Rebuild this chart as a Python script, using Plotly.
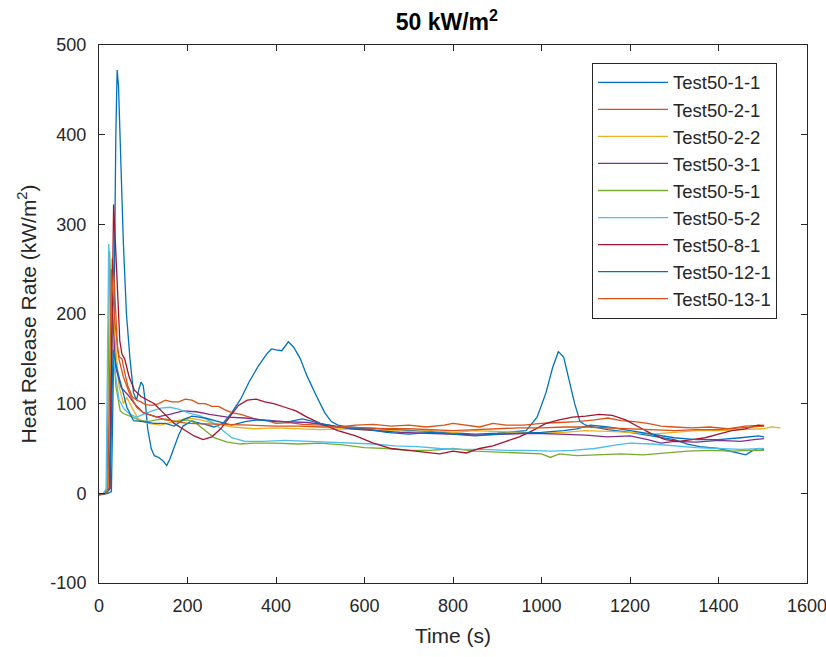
import plotly.graph_objects as go

# ---- data ----
names = ["Test50-1-1", "Test50-2-1", "Test50-2-2", "Test50-3-1", "Test50-5-1",
         "Test50-5-2", "Test50-8-1", "Test50-12-1", "Test50-13-1"]
colors = ["#0072BD", "#D95319", "#EDB120", "#7E2F8E", "#77AC30",
          "#4DBEEE", "#A2142F", "#0072BD", "#D95319"]

t_1_1 = [0, 10, 20, 28, 33, 38, 41, 44, 48, 55, 62, 70, 78, 85, 90, 95, 100, 105, 110, 118, 125, 135, 145, 153,
         160, 170, 180, 190, 200, 210, 220, 240, 260, 280, 300, 320, 340, 360, 380, 390, 400, 413, 428, 440, 455,
         470, 490, 510, 525, 540, 560, 600, 650, 700, 750, 800, 850, 900, 940, 965, 990, 1010, 1025, 1038, 1050,
         1062, 1075, 1087, 1100, 1116, 1150, 1200, 1250, 1300, 1330, 1358, 1400, 1430, 1449, 1462, 1475, 1490, 1503]
y_1_1 = [-2, -1, 0, 2, 150, 400, 472, 455, 380, 280, 200, 150, 112, 104, 116, 124, 120, 100, 72, 50, 42, 40, 36, 31,
         38, 52, 65, 75, 78, 81, 79, 77, 74, 78, 90, 105, 125, 142, 156, 161, 160, 159, 169, 163, 150,
         131, 110, 90, 80, 76, 74, 73, 71, 70, 69, 68, 66, 67, 69, 70, 85, 112, 140, 158, 152,
         128, 100, 80, 76, 74, 71, 68, 64, 60, 55, 52, 50, 47, 45, 43, 47, 50, 49]

t_2_1 = [0, 15, 22, 26, 30, 34, 38, 42, 46, 52, 58, 65, 75, 85, 95, 105, 120, 135, 150, 165, 180, 195, 210, 225,
         240, 255, 270, 285, 300, 320, 340, 360, 380, 400, 430, 460, 500, 540, 580, 620, 660, 700, 740, 780, 800,
         830, 860, 890, 920, 960, 1000, 1040, 1080, 1120, 1150, 1180, 1210, 1240, 1270, 1300, 1340, 1380, 1420,
         1460, 1503]
y_2_1 = [-1, 0, 5, 150, 262, 240, 190, 160, 152, 150, 135, 120, 108, 104, 102, 99, 98, 100, 104, 102, 102, 105, 104, 100,
         100, 97, 97, 93, 90, 88, 85, 82, 81, 78, 79, 77, 76, 74, 76, 77, 75, 76, 74, 76, 78,
         76, 74, 78, 76, 76, 78, 79, 80, 82, 84, 81, 80, 78, 75, 74, 73, 74, 72,
         75, 76]

t_2_2 = [0, 15, 22, 28, 35, 45, 55, 63, 75, 90, 110, 140, 170, 200, 230, 260, 300, 350, 400, 450, 500, 550, 600,
         650, 700, 750, 800, 850, 900, 950, 1000, 1050, 1100, 1150, 1200, 1250, 1300, 1350, 1400, 1450, 1500,
         1520, 1540]
y_2_2 = [-1, 0, 4, 255, 180, 120, 100, 107, 95, 82, 78, 76, 80, 84, 82, 78, 74, 72, 73, 72, 71, 72, 71,
         70, 69, 70, 68, 70, 69, 68, 67, 68, 70, 69, 68, 66, 68, 70, 70, 71, 72,
         74, 73]

t_3_1 = [0, 15, 24, 30, 38, 50, 65, 80, 100, 130, 160, 190, 220, 250, 290, 330, 370, 420, 470, 520, 570, 620,
         680, 740, 800, 860, 920, 980, 1040, 1100, 1150, 1200, 1240, 1270, 1300, 1350, 1400, 1450, 1480, 1503]
y_3_1 = [-1, 0, 6, 200, 140, 118, 110, 100, 90, 85, 88, 92, 91, 88, 85, 84, 82, 80, 79, 76, 72, 70,
         68, 67, 66, 65, 66, 67, 66, 65, 63, 64, 60, 56, 58, 57, 59, 58, 60, 61]

t_5_1 = [0, 12, 18, 24, 30, 38, 48, 55, 70, 90, 110, 130, 150, 175, 200, 220, 240, 260, 290, 320, 350, 400, 450,
         500, 550, 600, 650, 700, 750, 800, 850, 900, 950, 1000, 1020, 1040, 1080, 1130, 1180, 1230, 1280, 1330,
         1380, 1430, 1470, 1503]
y_5_1 = [-1, 0, 5, 270, 180, 120, 92, 89, 86, 82, 80, 82, 83, 80, 82, 78, 70, 62, 57, 55, 56, 56, 55,
         56, 54, 51, 50, 48, 48, 50, 47, 46, 45, 44, 40, 44, 42, 43, 44, 43, 45, 47,
         48, 47, 48, 48]

t_5_2 = [0, 10, 16, 22, 28, 35, 45, 55, 70, 85, 100, 120, 140, 160, 180, 200, 230, 260, 280, 300, 330, 370, 420,
         470, 520, 570, 620, 670, 720, 770, 820, 870, 920, 970, 1020, 1070, 1120, 1170, 1200, 1250, 1300, 1350,
         1400, 1450, 1503]
y_5_2 = [-1, 0, 5, 278, 200, 140, 105, 95, 88, 85, 88, 92, 95, 96, 94, 90, 86, 78, 70, 62, 58, 58, 59,
         58, 57, 56, 55, 53, 52, 50, 49, 49, 48, 48, 47, 48, 50, 54, 56, 55, 53, 51,
         50, 49, 50]

t_8_1 = [0, 15, 25, 33, 37, 42, 47, 52, 58, 68, 80, 95, 110, 125, 145, 170, 195, 215, 235, 255, 275, 295, 315,
         335, 355, 375, 395, 420, 445, 470, 500, 540, 580, 620, 660, 700, 740, 770, 800, 830, 860, 890, 920,
         950, 980, 1010, 1040, 1070, 1100, 1130, 1160, 1190, 1220, 1250, 1280, 1310, 1340, 1370, 1400, 1430,
         1460, 1490, 1503]
y_8_1 = [-1, 0, 5, 322, 280, 220, 170, 155, 150, 130, 115, 108, 104, 100, 90, 78, 70, 64, 60, 63, 72, 85, 98,
         104, 105, 102, 100, 96, 92, 85, 78, 70, 64, 56, 50, 48, 46, 44, 47, 45, 50, 53, 58,
         63, 70, 78, 82, 85, 86, 88, 87, 82, 74, 66, 60, 58, 60, 62, 66, 70,
         72, 76, 75]

t_12_1 = [0, 15, 24, 32, 40, 50, 63, 78, 100, 124, 150, 170, 190, 210, 240, 270, 300, 330, 360, 400, 430, 460,
          500, 540, 600, 650, 700, 750, 800, 850, 900, 950, 1000, 1050, 1080, 1110, 1150, 1200, 1250, 1300,
          1350, 1400, 1450, 1490, 1503]
y_12_1 = [-1, 0, 5, 160, 140, 120, 96, 81, 80, 78, 78, 75, 82, 86, 84, 80, 76, 80, 82, 80, 80, 83,
          78, 74, 72, 68, 66, 68, 66, 64, 66, 67, 68, 70, 72, 76, 74, 70, 66, 62,
          60, 60, 62, 64, 63]

t_13_1 = [0, 15, 20, 28, 36, 45, 55, 70, 85, 100, 125, 150, 200, 250, 300, 341, 400, 450, 500, 550, 600, 650,
          700, 750, 800, 850, 900, 950, 1000, 1050, 1100, 1150, 1200, 1250, 1300, 1350, 1400, 1450, 1503]
y_13_1 = [-1, 0, 4, 250, 190, 150, 130, 110, 96, 90, 86, 82, 78, 77, 76, 76, 75, 75, 74, 74, 73, 72,
          72, 71, 70, 71, 72, 73, 73, 74, 74, 73, 72, 71, 70, 71, 71, 73, 75]

series_t = [t_1_1, t_2_1, t_2_2, t_3_1, t_5_1, t_5_2, t_8_1, t_12_1, t_13_1]
series_y = [y_1_1, y_2_1, y_2_2, y_3_1, y_5_1, y_5_2, y_8_1, y_12_1, y_13_1]

x_ticks = [0, 200, 400, 600, 800, 1000, 1200, 1400, 1600]
y_ticks = [-100, 0, 100, 200, 300, 400, 500]
y_tick_text = ["-100", "0", "100", "200", "300", "400", "500"]

FONT = "Liberation Sans, Arial, Helvetica"
TXT = "#262626"

# ---- figure ----
fig = go.Figure()
for name, col, tx, ty in zip(names, colors, series_t, series_y):
    fig.add_trace(go.Scatter(x=tx, y=ty, mode="lines", name=name,
                             line=dict(color=col, width=1.3)))

axis_common = dict(showline=True, linecolor=TXT, linewidth=1, mirror="ticks",
                   ticks="inside", ticklen=6, tickcolor=TXT, showgrid=False,
                   zeroline=False, automargin=False, ticklabeloverflow="allow",
                   tickfont=dict(family=FONT, size=18, color=TXT))

fig.update_layout(
    width=826, height=657,
    paper_bgcolor="white", plot_bgcolor="white",
    margin=dict(l=99, r=19, t=45, b=74, autoexpand=False),
    title=dict(text="<b>50 kW/m<sup>2</sup></b>", x=0.541, xanchor="center", y=0.966, yanchor="middle",
               font=dict(family=FONT, size=23, color="black")),
    xaxis=dict(range=[0, 1600], tickvals=x_ticks, ticklabelstandoff=6,
               title=dict(text="Time (s)", font=dict(family=FONT, size=21, color=TXT), standoff=13),
               **axis_common),
    yaxis=dict(range=[-100, 500], tickvals=y_ticks, ticktext=y_tick_text, ticklabelstandoff=8,
               title=dict(text="Heat Release Rate (kW/m<sup>2</sup>)",
                          font=dict(family=FONT, size=21, color=TXT), standoff=8),
               **axis_common),
    legend=dict(x=0.9576, xanchor="right", y=0.967, yanchor="top",
                bgcolor="white", bordercolor=TXT, borderwidth=1,
                font=dict(family=FONT, size=18.5, color=TXT),
                itemwidth=70, tracegroupgap=0),
    showlegend=True,
)

fig.write_html("out.html", config={"displayModeBar": False},
               post_script="document.body.style.margin='0';")
